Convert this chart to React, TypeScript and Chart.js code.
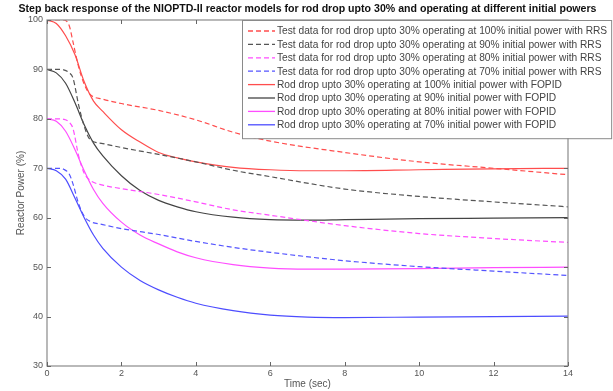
import React, { useEffect, useRef } from 'react';
import { Chart, registerables } from 'chart.js';
Chart.register(...registerables);

const chartTitle = 'Step back response of the NIOPTD-II reactor models for rod drop upto 30% and operating at different initial powers';
const xAxisTitle = 'Time (sec)';
const yAxisTitle = 'Reactor Power (%)';
const xTicks = [0, 2, 4, 6, 8, 10, 12, 14];
const yTicks = [30, 40, 50, 60, 70, 80, 90, 100];

// Test data (RRS), dashed
const testTime = [0, 0.3, 0.45, 0.6, 0.7, 0.85, 1.0, 1.15, 1.5, 2, 3, 4, 5, 6, 8, 10, 12, 14];
const test100 = [100, 100, 100, 98.8, 95.5, 90.5, 87, 85, 84, 83.1, 81.7, 79.8, 77.3, 75.5, 73.2, 71.3, 70, 68.7];
const test90 = [90, 90, 89.9, 89.3, 88.2, 82.8, 78.5, 75.9, 75, 74.2, 72.8, 71.3, 69.6, 68.3, 65.8, 64.3, 63.2, 62.2];
const test80 = [80, 80, 79.9, 79.3, 78, 72.5, 69, 67.6, 66.6, 65.9, 64.7, 63.2, 61.6, 60.5, 58.4, 56.8, 55.8, 55];
const test70 = [70, 70, 69.8, 68.8, 66.8, 62.8, 60.3, 59.3, 58.6, 57.8, 56.6, 55.2, 54, 53, 51.3, 50.1, 49.2, 48.3];

// Model (FOPID), solid
const modelTime = [0, 0.25, 0.5, 0.75, 1, 1.25, 1.5, 2, 2.5, 3, 3.5, 4, 5, 6, 7, 8, 10, 12, 14];
const model100 = [100, 99.3, 96.8, 93, 87.5, 83.6, 81.5, 77.8, 75.3, 73.2, 72.1, 71.3, 70.2, 69.7, 69.5, 69.5, 69.7, 69.9, 70];
const model90 = [90, 89.3, 87.2, 83.3, 78.8, 75.1, 72.5, 68.5, 65.5, 63.5, 62.2, 61.2, 60.1, 59.6, 59.5, 59.6, 59.8, 59.9, 60];
const model80 = [80, 79.5, 77.5, 73.8, 69.5, 65.7, 62.9, 59.1, 56.5, 54.7, 53.1, 51.9, 50.5, 49.8, 49.6, 49.6, 49.7, 49.9, 50];
const model70 = [70, 69.5, 67.8, 64, 60, 56.5, 53.8, 50, 47.3, 45.4, 43.9, 42.7, 41.2, 40.3, 39.9, 39.8, 39.9, 40, 40.1];

const seriesLabels = [
  'Test data for rod drop upto 30% operating at 100% initial power with RRS',
  'Test data for rod drop upto 30% operating at 90% initial power with RRS',
  'Test data for rod drop upto 30% operating at 80% initial power with RRS',
  'Test data for rod drop upto 30% operating at 70% initial power with RRS',
  'Rod drop upto 30% operating at 100% initial power with FOPID',
  'Rod drop upto 30% operating at 90% initial power with FOPID',
  'Rod drop upto 30% operating at 80% initial power with FOPID',
  'Rod drop upto 30% operating at 70% initial power with FOPID',
];
const seriesColors = ['#ff4d4d', '#555555', '#ff4dff', '#5555ff', '#ff4d4d', '#444444', '#ff4dff', '#4d4dff'];
const seriesDashed = [true, true, true, true, false, false, false, false];
const seriesValues = [test100, test90, test80, test70, model100, model90, model80, model70];
const seriesTimes = [testTime, testTime, testTime, testTime, modelTime, modelTime, modelTime, modelTime];

const FONT = '"Liberation Sans", Arial, sans-serif';
const DASH = [5, 3];

const overlay = {
  id: 'overlay',
  afterDraw(chart: any) {
    const { ctx, chartArea: a, scales } = chart;
    ctx.save();
    // axes box
    ctx.strokeStyle = '#8a8a8a';
    ctx.lineWidth = 1.2;
    ctx.strokeRect(a.left, a.top, a.right - a.left, a.bottom - a.top);
    // inward ticks
    ctx.lineWidth = 1;
    ctx.strokeStyle = '#666';
    ctx.beginPath();
    for (const v of xTicks) {
      const px = Math.round(scales.x.getPixelForValue(v)) + 0.5;
      ctx.moveTo(px, a.bottom); ctx.lineTo(px, a.bottom - 4);
      ctx.moveTo(px, a.top); ctx.lineTo(px, a.top + 4);
    }
    for (const v of yTicks) {
      const py = Math.round(scales.y.getPixelForValue(v)) + 0.5;
      ctx.moveTo(a.left, py); ctx.lineTo(a.left + 4, py);
      ctx.moveTo(a.right, py); ctx.lineTo(a.right - 4, py);
    }
    ctx.stroke();

    // title
    ctx.fillStyle = '#111';
    ctx.font = 'bold 10.6px ' + FONT;
    ctx.textAlign = 'center';
    ctx.textBaseline = 'middle';
    ctx.fillText(chartTitle, (a.left + a.right) / 2, 9);

    // axis titles
    ctx.fillStyle = '#555';
    ctx.font = '10px ' + FONT;
    ctx.fillText(xAxisTitle, (a.left + a.right) / 2, chart.height - 7);
    ctx.save();
    ctx.translate(21, (a.top + a.bottom) / 2);
    ctx.rotate(-Math.PI / 2);
    ctx.fillText(yAxisTitle, 0, 0);
    ctx.restore();

    // legend
    ctx.font = '10.2px ' + FONT;
    const lx = a.left + 195;
    const ly = a.top;
    const rowH = 13.4;
    let maxW = 0;
    for (const s of seriesLabels) maxW = Math.max(maxW, ctx.measureText(s).width);
    const textX = lx + 35;
    const bw = textX + maxW + 4 - lx;
    const bh = rowH * seriesLabels.length + 11;
    ctx.fillStyle = '#fff';
    ctx.fillRect(lx, ly, bw, bh);
    ctx.strokeStyle = '#8a8a8a';
    ctx.lineWidth = 1;
    ctx.strokeRect(lx + 0.5, ly + 0.5, bw, bh);
    ctx.textAlign = 'left';
    seriesLabels.forEach((s, i) => {
      const cy = ly + 11 + i * rowH;
      ctx.strokeStyle = seriesColors[i];
      ctx.lineWidth = 1.3;
      ctx.setLineDash(seriesDashed[i] ? DASH : []);
      ctx.beginPath();
      ctx.moveTo(lx + 6, cy);
      ctx.lineTo(lx + 33, cy);
      ctx.stroke();
      ctx.setLineDash([]);
      ctx.fillStyle = '#444';
      ctx.fillText(s, textX, cy + 0.5);
    });
    ctx.restore();
  },
};

export default function App() {
  const ref = useRef<HTMLCanvasElement | null>(null);
  useEffect(() => {
    if (!ref.current) return;
    const datasets = seriesLabels.map((label, i) => ({
      label,
      data: seriesTimes[i].map((t, j) => ({ x: t, y: seriesValues[i][j] })),
      borderColor: seriesColors[i],
      borderWidth: 1.2,
      borderDash: seriesDashed[i] ? DASH : [],
      pointRadius: 0,
      fill: false,
      cubicInterpolationMode: 'monotone' as const,
    }));
    const chart = new Chart(ref.current, {
      type: 'line',
      data: { datasets },
      options: {
        animation: false,
        responsive: true,
        maintainAspectRatio: false,
        layout: { padding: { top: 20, right: 45, left: 0, bottom: 0 } },
        plugins: { legend: { display: false }, title: { display: false }, tooltip: { enabled: false } },
        scales: {
          x: {
            type: 'linear',
            min: 0,
            max: 14,
            afterBuildTicks: (s: any) => { s.ticks = xTicks.map((v) => ({ value: v })); },
            afterFit: (s: any) => { s.height = 25; },
            grid: { display: false, drawTicks: false },
            border: { display: false },
            ticks: { font: { size: 9, family: FONT }, color: '#555', padding: 2, maxRotation: 0 },
          },
          y: {
            type: 'linear',
            min: 30,
            max: 100,
            afterBuildTicks: (s: any) => { s.ticks = yTicks.map((v) => ({ value: v })); },
            afterFit: (s: any) => { s.width = 47; },
            grid: { display: false, drawTicks: false },
            border: { display: false },
            ticks: { font: { size: 9, family: FONT }, color: '#555', padding: 4 },
          },
        },
      },
      plugins: [overlay],
    });
    return () => chart.destroy();
  }, []);
  return (
    <div style={{ position: 'fixed', left: 0, top: 0, width: 613, height: 391, background: '#fff' }}>
      <canvas ref={ref} />
    </div>
  );
}
